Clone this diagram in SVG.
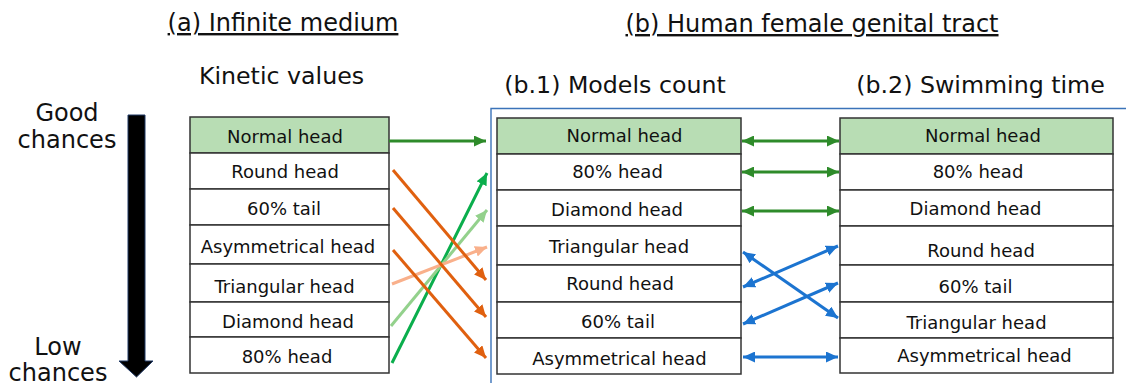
<svg xmlns="http://www.w3.org/2000/svg" width="1126" height="383" viewBox="0 0 1126 383">
<style>
  text { font-family: "DejaVu Sans", "Liberation Sans", sans-serif; fill: #111; }
  .title { font-size: 24px; text-anchor: middle; text-decoration: underline; }
  .head { font-size: 23.7px; text-anchor: middle; }
  .side { font-size: 24px; text-anchor: middle; }
  .cell rect { fill: #ffffff; stroke: #333; stroke-width: 1.5; }
  .cell.top rect { fill: #b8ddb4; }
  .cell text { font-size: 18px; text-anchor: middle; }
  .c { fill: none; stroke-width: 3; }
</style>
<defs>
  <marker id="mDG" markerUnits="userSpaceOnUse" markerWidth="12" markerHeight="11" refX="12" refY="5.5" orient="auto-start-reverse"><path d="M0,0 L12,5.5 L0,11 z" fill="#2e8b2a"/></marker>
  <marker id="mBG" markerUnits="userSpaceOnUse" markerWidth="12" markerHeight="11" refX="12" refY="5.5" orient="auto-start-reverse"><path d="M0,0 L12,5.5 L0,11 z" fill="#0aae4c"/></marker>
  <marker id="mLG" markerUnits="userSpaceOnUse" markerWidth="12" markerHeight="11" refX="12" refY="5.5" orient="auto-start-reverse"><path d="M0,0 L12,5.5 L0,11 z" fill="#93d18c"/></marker>
  <marker id="mSA" markerUnits="userSpaceOnUse" markerWidth="12" markerHeight="11" refX="12" refY="5.5" orient="auto-start-reverse"><path d="M0,0 L12,5.5 L0,11 z" fill="#f9b08b"/></marker>
  <marker id="mOR" markerUnits="userSpaceOnUse" markerWidth="12" markerHeight="11" refX="12" refY="5.5" orient="auto-start-reverse"><path d="M0,0 L12,5.5 L0,11 z" fill="#e0600f"/></marker>
  <marker id="mBL" markerUnits="userSpaceOnUse" markerWidth="12" markerHeight="11" refX="12" refY="5.5" orient="auto-start-reverse"><path d="M0,0 L12,5.5 L0,11 z" fill="#1c74d0"/></marker>
</defs>
<rect width="1126" height="383" fill="#ffffff"/>

<!-- titles -->
<text class="title" x="283" y="31">(a) Infinite medium</text>
<text class="title" x="812" y="32">(b) Human female genital tract</text>
<text class="head" x="281.5" y="84">Kinetic values</text>
<text class="head" x="615" y="93">(b.1) Models count</text>
<text class="head" x="980.5" y="93">(b.2) Swimming time</text>

<!-- chance scale -->
<g id="scale">
  <text class="side" x="67" y="121">Good</text>
  <text class="side" x="67" y="148">chances</text>
  <text class="side" x="58" y="355">Low</text>
  <text class="side" x="58" y="381">chances</text>
  <path d="M128,115 L145,115 L145,361 L153,361 L136.5,377 L119,361 L128,361 z" fill="#000" stroke="#1f3864" stroke-width="1"/>
</g>

<!-- blue frame -->
<path d="M491,383 L491,108.5 L1126,108.5" fill="none" stroke="#3b73b9" stroke-width="1.4"/>

<!-- left table -->
<g id="a-normal" class="cell top"><rect x="190" y="117" width="199" height="36"/><text x="285" y="143">Normal head</text></g>
<g id="a-round" class="cell"><rect x="190" y="153" width="199" height="36"/><text x="285" y="178">Round head</text></g>
<g id="a-60tail" class="cell"><rect x="190" y="189" width="199" height="36"/><text x="284" y="215">60% tail</text></g>
<g id="a-asym" class="cell"><rect x="190" y="225" width="199" height="39"/><text x="288" y="253">Asymmetrical head</text></g>
<g id="a-tri" class="cell"><rect x="190" y="264" width="199" height="38"/><text x="284.5" y="293">Triangular head</text></g>
<g id="a-diamond" class="cell"><rect x="190" y="302" width="199" height="35"/><text x="288" y="328">Diamond head</text></g>
<g id="a-80head" class="cell"><rect x="190" y="337" width="199" height="36"/><text x="287" y="363">80% head</text></g>

<!-- middle table -->
<g id="b1-normal" class="cell top"><rect x="497" y="118" width="244" height="36"/><text x="624.5" y="142">Normal head</text></g>
<g id="b1-80head" class="cell"><rect x="497" y="154" width="244" height="36"/><text x="617.5" y="178">80% head</text></g>
<g id="b1-diamond" class="cell"><rect x="497" y="190" width="244" height="36"/><text x="617" y="216">Diamond head</text></g>
<g id="b1-tri" class="cell"><rect x="497" y="226" width="244" height="39"/><text x="619" y="253">Triangular head</text></g>
<g id="b1-round" class="cell"><rect x="497" y="265" width="244" height="37"/><text x="620" y="290">Round head</text></g>
<g id="b1-60tail" class="cell"><rect x="497" y="302" width="244" height="36"/><text x="618" y="328">60% tail</text></g>
<g id="b1-asym" class="cell"><rect x="497" y="338" width="244" height="36"/><text x="619.5" y="365">Asymmetrical head</text></g>

<!-- right table -->
<g id="b2-normal" class="cell top"><rect x="840" y="118" width="273" height="36"/><text x="983" y="142">Normal head</text></g>
<g id="b2-80head" class="cell"><rect x="840" y="154" width="273" height="36"/><text x="978" y="178">80% head</text></g>
<g id="b2-diamond" class="cell"><rect x="840" y="190" width="273" height="36"/><text x="975.5" y="215">Diamond head</text></g>
<g id="b2-round" class="cell"><rect x="840" y="226" width="273" height="39"/><text x="981" y="257">Round head</text></g>
<g id="b2-60tail" class="cell"><rect x="840" y="265" width="273" height="37"/><text x="975.5" y="293">60% tail</text></g>
<g id="b2-tri" class="cell"><rect x="840" y="302" width="273" height="36"/><text x="976.5" y="329">Triangular head</text></g>
<g id="b2-asym" class="cell"><rect x="840" y="338" width="273" height="35"/><text x="984.5" y="362">Asymmetrical head</text></g>

<!-- connectors -->
<g id="connectors">
  <line class="c" x1="389" y1="141" x2="486" y2="141" stroke="#2e8b2a" marker-end="url(#mDG)"/>
  <line class="c" x1="392" y1="363" x2="487" y2="173" stroke="#0aae4c" marker-end="url(#mBG)"/>
  <line class="c" x1="391" y1="326" x2="487" y2="210" stroke="#93d18c" marker-end="url(#mLG)"/>
  <line class="c" x1="392" y1="284" x2="487" y2="247" stroke="#f9b08b" marker-end="url(#mSA)"/>
  <line class="c" x1="393" y1="170" x2="486" y2="280" stroke="#e0600f" marker-end="url(#mOR)"/>
  <line class="c" x1="393" y1="208" x2="486" y2="317" stroke="#e0600f" marker-end="url(#mOR)"/>
  <line class="c" x1="393" y1="250" x2="486" y2="358" stroke="#e0600f" marker-end="url(#mOR)"/>

  <line class="c" x1="742" y1="141" x2="839" y2="141" stroke="#2e8b2a" marker-start="url(#mDG)" marker-end="url(#mDG)"/>
  <line class="c" x1="742" y1="172" x2="839" y2="172" stroke="#2e8b2a" marker-start="url(#mDG)" marker-end="url(#mDG)"/>
  <line class="c" x1="742" y1="211" x2="839" y2="211" stroke="#2e8b2a" marker-start="url(#mDG)" marker-end="url(#mDG)"/>

  <line class="c" x1="743" y1="252" x2="838" y2="318" stroke="#1c74d0" marker-start="url(#mBL)" marker-end="url(#mBL)"/>
  <line class="c" x1="743" y1="287" x2="838" y2="246" stroke="#1c74d0" marker-start="url(#mBL)" marker-end="url(#mBL)"/>
  <line class="c" x1="743" y1="324" x2="838" y2="283" stroke="#1c74d0" marker-start="url(#mBL)" marker-end="url(#mBL)"/>
  <line class="c" x1="743" y1="357" x2="838" y2="357" stroke="#1c74d0" marker-start="url(#mBL)" marker-end="url(#mBL)"/>
</g>
</svg>
